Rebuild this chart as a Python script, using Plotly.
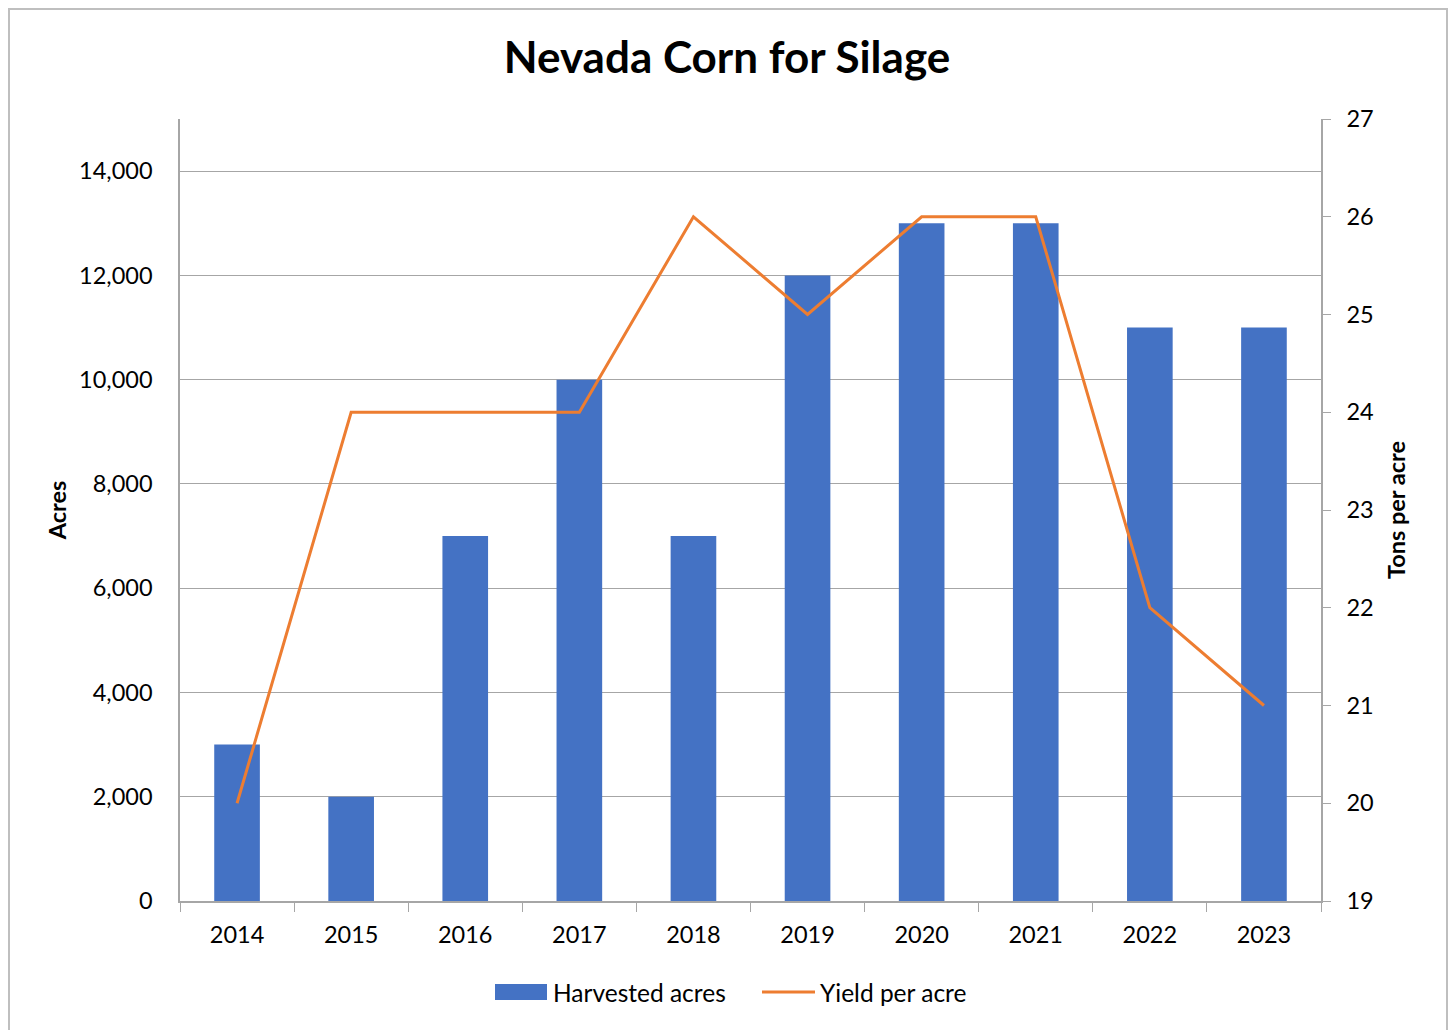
import plotly.graph_objects as go

years = ["2014", "2015", "2016", "2017", "2018", "2019", "2020", "2021", "2022", "2023"]
harvested_acres = [3000, 2000, 7000, 10000, 7000, 12000, 13000, 13000, 11000, 11000]
yield_per_acre = [20, 24, 24, 24, 26, 25, 26, 26, 22, 21]
series_names = ["Harvested acres", "Yield per acre"]

FONT = "Lato"
FS = 23.5
W, H = 1456, 1030
OFF = 8  # page body margin in the browser
L, R, T, B = 180 - OFF, 1321 - OFF, 119 - OFF, 901 - OFF
BAR_COLOR = "#4472C4"
LINE_COLOR = "#ED7D31"
AXIS_COLOR = "#A6A6A6"

fig = go.Figure()
fig.add_trace(go.Bar(x=years, y=harvested_acres, name=series_names[0],
                     marker=dict(color=BAR_COLOR, line=dict(width=0)), yaxis="y",
                     showlegend=False))
fig.add_trace(go.Scatter(x=years, y=yield_per_acre, name=series_names[1], mode="lines",
                         line=dict(color=LINE_COLOR, width=3), yaxis="y2",
                         showlegend=False))

pw, ph = R - L, B - T
def px(x):
    return (x - OFF - L) / pw
def py(y):
    return (B - (y - OFF)) / ph

fig.update_layout(
    width=W, height=H,
    margin=dict(l=L, r=W - R, t=T, b=H - B),
    paper_bgcolor="white", plot_bgcolor="white",
    font=dict(family=FONT, size=FS, color="#000000"),
    title=dict(text="<b>Nevada Corn for Silage</b>", x=px(727), xref="paper", xanchor="center",
               y=1 - (58 - OFF) / H, yanchor="middle", font=dict(size=44, family=FONT)),
    bargap=0.6,
    showlegend=False,
    xaxis=dict(type="category", showline=True, linecolor=AXIS_COLOR, linewidth=1.5,
               ticks="outside", tickson="boundaries", ticklen=9, tickcolor=AXIS_COLOR,
               showgrid=False, tickfont=dict(size=FS), ticklabelstandoff=12),
    yaxis=dict(range=[0, 15000], tickvals=[0, 2000, 4000, 6000, 8000, 10000, 12000, 14000],
               tickformat=",d", showline=True, linecolor=AXIS_COLOR, linewidth=1.5,
               showgrid=True, gridcolor=AXIS_COLOR, gridwidth=1, zeroline=False,
               ticks="", ticklabelstandoff=21,
               title=dict(text="<b>Acres</b>", font=dict(size=FS), standoff=6)),
    yaxis2=dict(range=[19, 27], dtick=1, overlaying="y", side="right",
                showline=True, linecolor=AXIS_COLOR, linewidth=1.5, showgrid=False,
                zeroline=False, ticks="outside", ticklen=8, tickcolor=AXIS_COLOR,
                ticklabelstandoff=11,
                title=dict(text="<b>Tons per acre</b>", font=dict(size=FS), standoff=16)),
)

# outer chart border
fig.add_shape(type="rect", xref="paper", yref="paper",
              x0=px(9), x1=px(1447), y0=py(1045), y1=py(9),
              line=dict(color="#BFBFBF", width=2), fillcolor="rgba(0,0,0,0)", layer="below")

# legend
LFS = 24.5
fig.add_shape(type="rect", xref="paper", yref="paper",
              x0=px(495), x1=px(547), y0=py(1000), y1=py(984),
              line=dict(width=0), fillcolor=BAR_COLOR)
fig.add_annotation(text=series_names[0], xref="paper", yref="paper", x=px(551), y=py(992),
                   xanchor="left", yanchor="middle", showarrow=False, font=dict(size=LFS))
fig.add_shape(type="line", xref="paper", yref="paper",
              x0=px(762), x1=px(815), y0=py(992), y1=py(992),
              line=dict(color=LINE_COLOR, width=3))
fig.add_annotation(text=series_names[1], xref="paper", yref="paper", x=px(818), y=py(992),
                   xanchor="left", yanchor="middle", showarrow=False, font=dict(size=LFS))

fig.write_html("out.html")
